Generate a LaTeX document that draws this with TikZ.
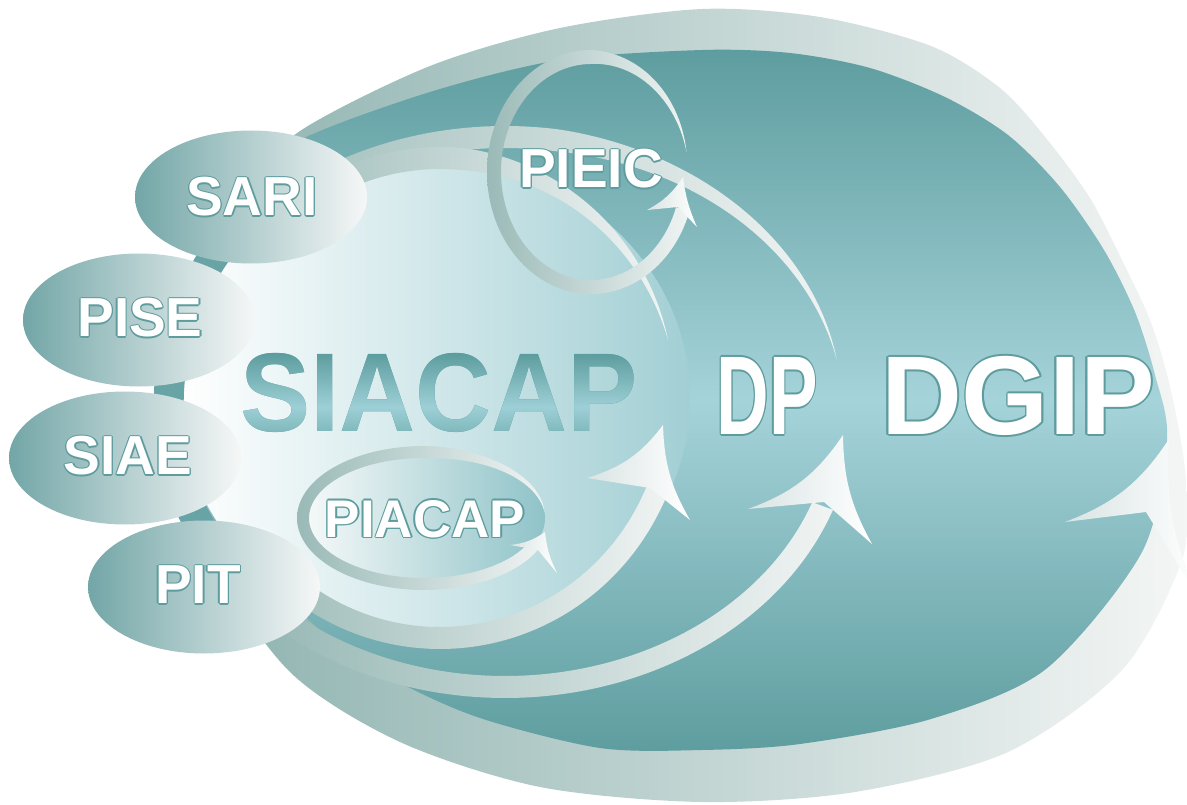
\documentclass[tikz,border=0pt]{standalone}
\usepackage{fontspec}
\setmainfont{Liberation Sans}
\usepackage{graphicx}
\usetikzlibrary{shapes.geometric,fadings}

\definecolor{tealtop}{HTML}{5E9D9F}
\definecolor{tealmid}{HTML}{A5D3DA}
\definecolor{blob}{HTML}{68A4A5}
\definecolor{bandl}{HTML}{8DB2AF}
\definecolor{bandr}{HTML}{F4F6F5}
\definecolor{ringl}{HTML}{9ABAB7}
\definecolor{ringr}{HTML}{F0F4F3}
\definecolor{ovall}{HTML}{73A6A7}
\definecolor{ovalr}{HTML}{F6F7F7}
\definecolor{siar}{HTML}{A2CFD4}
\definecolor{piar}{HTML}{8FC3C8}
\definecolor{rim}{HTML}{5E9C9E}
\definecolor{bigtxt}{HTML}{5B9B9D}
\definecolor{bigshine}{HTML}{9DD0D6}
\definecolor{headl}{HTML}{D9E4E3}

\newlength\olw
\setlength\olw{1.3pt}
% white letters with a teal rim
\newcommand\olt[1]{%
  {\color{rim}%
   \rlap{\kern\olw#1}\rlap{\kern-\olw#1}%
   \rlap{\raisebox{\olw}{#1}}\rlap{\raisebox{-\olw}{#1}}%
   \rlap{\kern.7\olw\raisebox{.7\olw}{#1}}\rlap{\kern-.7\olw\raisebox{.7\olw}{#1}}%
   \rlap{\kern.7\olw\raisebox{-.7\olw}{#1}}\rlap{\kern-.7\olw\raisebox{-.7\olw}{#1}}}%
  {\color{white}#1}}

% band along an ellipse, running out to a point at the tail
% style, cx, cy, a, b, half width, start, tail, taper
\newcommand\ringband[9]{%
  \shade[#1] plot[domain=#7:#8,samples=120,variable=\t]
      ({#2+(#4+#6*min(1,(#8-(\t))/#9))*cos(\t)},{#3+(#5+#6*min(1,(#8-(\t))/#9))*sin(\t)})
    -- plot[domain=#8:#7,samples=120,variable=\t]
      ({#2+(#4-#6*min(1,(#8-(\t))/#9))*cos(\t)},{#3+(#5-#6*min(1,(#8-(\t))/#9))*sin(\t)})
    -- cycle;}

\begin{tikzfadingfrompicture}[name=siacapfade]
  \node[font=\rmfamily\fontsize{112}{120}\selectfont\bfseries,text=transparent!0,inner sep=0pt]
    (siacapmask) at (0,0) {\scalebox{0.94}[1]{SIACAP}};
\end{tikzfadingfrompicture}

\begin{document}
\begin{tikzpicture}[x=1pt,y=-1pt,
  band/.style={left color=bandl,right color=bandr},
  ring/.style={left color=ringl,right color=ringr},
  head/.style={left color=headl,right color=white},
  oval/.style={ellipse,left color=ovall,right color=ovalr,inner sep=0pt,
    minimum width=232pt,minimum height=133pt},
  lbl/.style={font=\fontsize{55}{60}\selectfont\bfseries,inner sep=0pt}]
\clip (0,0) rectangle (1187,805);

% DGIP: outer band and teal body
\shade[band] plot[smooth cycle] coordinates {(300,131) (430,66) (560,28) (702,9)
  (820,17) (931,46) (1000,88) (1046,138) (1090,198) (1123,262) (1152,325)
  (1172,395) (1186,480) (1182,560) (1123,669) (1008,752) (855,792) (702,802)
  (540,787) (400,742) (290,672) (215,560) (185,420) (205,280) (245,190)};
\shade[top color=tealtop,bottom color=tealtop,middle color=tealmid]
  plot[smooth cycle] coordinates {(300,140) (430,92) (560,60) (702,50) (790,53)
  (870,68) (945,97) (1008,135) (1060,187) (1104,250) (1135,312) (1155,375)
  (1167,440) (1142,552) (1046,669) (931,719) (800,744) (702,750) (600,748)
  (480,718) (395,680) (320,630) (230,540) (160,420) (175,320) (205,250) (250,185)};
\begin{scope}
	\coordinate (L) at (1065,522);
	\coordinate (T) at (1169,439);
	\coordinate (R) at (1200,600);
	\coordinate (N) at (1146,512);
	\shade[head] (L) to[bend right=18] (T) to[bend right=14] (R) -- (N) -- cycle;
\end{scope}

% DP ring, left part hidden behind the ovals
\ringband{ring}{505}{412}{338}{275}{11}{-340}{-228}{1}
\ringband{ring}{505}{412}{338}{275}{11}{-145}{-11}{70}
\begin{scope}
	\coordinate (L) at (748,509);
	\coordinate (T) at (843,435);
	\coordinate (R) at (872,544);
	\coordinate (N) at (824,502);
	\shade[head] (L) to[bend right=18] (T) to[bend right=14] (R) -- (N) -- cycle;
\end{scope}

% SIACAP
\shade[left color=white,right color=siar] (435,398) ellipse [x radius=255,y radius=238];
\ringband{ring}{440}{398}{235}{240}{11}{-340}{-220}{1}
\ringband{ring}{440}{398}{235}{240}{11}{-140}{-14}{70}
\begin{scope}
	\coordinate (L) at (587,478);
	\coordinate (T) at (663,425);
	\coordinate (R) at (690,520);
	\coordinate (N) at (650,488);
	\shade[head] (L) to[bend right=18] (T) to[bend right=14] (R) -- (N) -- cycle;
\end{scope}

% PIEIC ring
\ringband{ring}{591}{172}{97}{115}{7}{-341}{-10}{80}
\begin{scope}
	\coordinate (L) at (647,210);
	\coordinate (T) at (683,177);
	\coordinate (R) at (697,227);
	\coordinate (N) at (678,207);
	\shade[head] (L) to[bend right=14] (T) to[bend right=8] (R) -- (N) -- cycle;
\end{scope}

% PIACAP ring
\node[ellipse,left color=white!92!ringl,right color=piar,inner sep=0pt,
  minimum width=242pt,minimum height=132pt] (piacapfill) at (424,518) {};
\ringband{ring}{424}{518}{121}{66}{6}{-335}{-5}{80}
\begin{scope}
	\coordinate (L) at (510,545);
	\coordinate (T) at (545,532);
	\coordinate (R) at (557,573);
	\coordinate (N) at (538,550);
	\shade[head] (L) to[bend right=14] (T) to[bend right=10] (R) -- (N) -- cycle;
\end{scope}

% teal showing between the small ovals
\draw[line width=30pt,blob] (230,235) .. controls (150,330) and (150,470) .. (220,555);

% small ovals
\node[oval] (sari) at (251,197) {};
\node[oval] (pise) at (139,320) {};
\node[oval] (siae) at (125,458) {};
\node[oval] (pit) at (204,587) {};

% labels
\node[lbl] (sarilbl) at (252,197) {\olt{SARI}};
\node[lbl] (piselbl) at (140,318) {\olt{PISE}};
\node[lbl] (siaelbl) at (128,456) {\olt{SIAE}};
\node[lbl] (pitlbl) at (198,585) {\olt{PIT}};
\node[lbl,font=\fontsize{53}{58}\selectfont\bfseries] (piacap) at (425,519) {\olt{PIACAP}};
\node[lbl] (pieic) at (591,169) {\olt{PIEIC}};
\node[font=\fontsize{112}{120}\selectfont\bfseries,text=bigtxt,inner sep=0pt]
  (siacap) at (439,393) {\scalebox{0.94}[1]{SIACAP}};
% metallic shine on SIACAP
\shade[path fading=siacapfade,fit fading=false,fading transform={shift={(siacap.center)}},
  top color=bigtxt,bottom color=bigtxt,middle color=bigshine]
  (225,352) rectangle (655,462);
\node[font=\fontsize{112}{120}\selectfont\bfseries,inner sep=0pt]
  (dp) at (767,396) {\setlength\olw{2pt}\scalebox{0.65}[1]{\olt{DP}}};
\node[font=\fontsize{112}{120}\selectfont\bfseries,inner sep=0pt]
  (dgip) at (1018,396) {\setlength\olw{2pt}\olt{DGIP}};
\end{tikzpicture}
\end{document}
